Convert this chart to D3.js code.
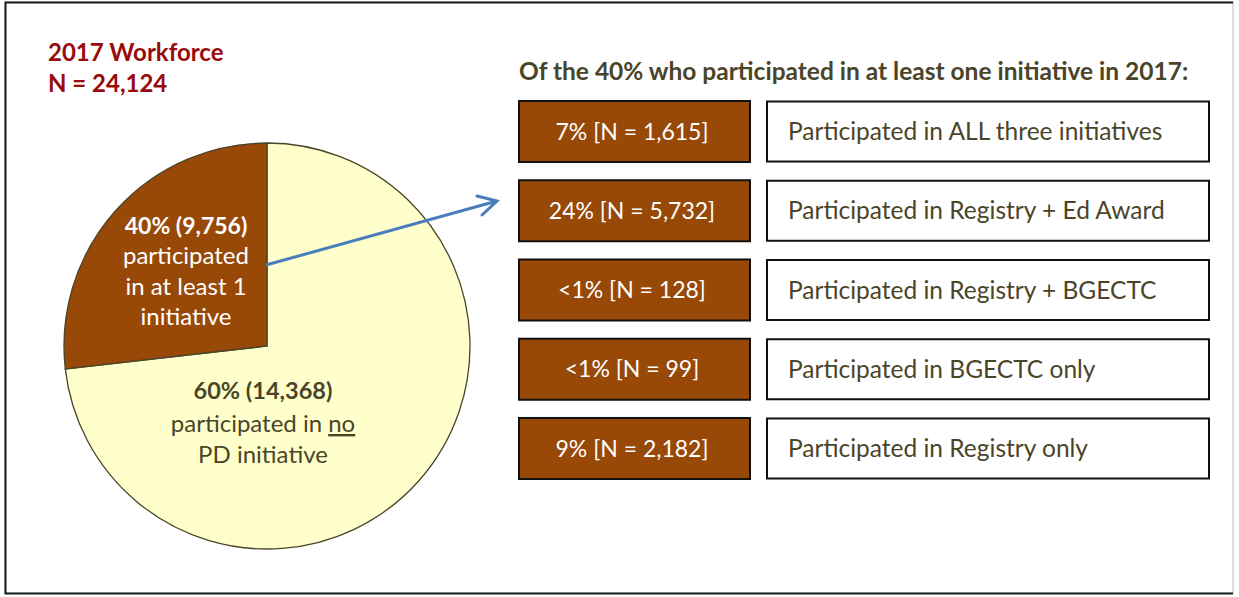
<!DOCTYPE html>
<html>
<head>
<meta charset="utf-8">
<script src="https://cdn.jsdelivr.net/npm/d3@7"></script>
<style>
  html, body { margin: 0; padding: 0; background: #fff; }
  svg { display: block; font-family: Lato, "Open Sans", sans-serif; }
</style>
</head>
<body>
<svg id="chart" width="1239" height="597"></svg>
<script>
// ---- data ----
const workforceTitle = "2017 Workforce";
const workforceN = "N = 24,124";
const pieCategories = ["none", "atLeastOne"];
const pieCounts = [14368, 9756];
const piePercents = ["60%", "40%"];
// slice shares as drawn in the reference picture (the drawing is not to scale)
const pieDrawnShares = [73.2, 26.8];

const breakdownTitle = "Of the 40% who participated in at least one initiative in 2017:";
const breakdownPercents = ["7%", "24%", "<1%", "<1%", "9%"];
const breakdownCounts = [1615, 5732, 128, 99, 2182];
const breakdownLabels = [
  "Participated in ALL three initiatives",
  "Participated in Registry + Ed Award",
  "Participated in Registry + BGECTC",
  "Participated in BGECTC only",
  "Participated in Registry only"
];

// ---- styles ----
const BROWN = "#984807";
const YELLOW = "#ffffcc";
const DARK = "#4a4529";
const RED = "#990a0a";
const BLUE = "#4a7ebb";
const fmt = d3.format(",");

const svg = d3.select("#chart");

// outer frame
svg.append("rect").attr("x", 5).attr("y", 2).attr("width", 1228).attr("height", 591)
  .attr("fill", "#fff").attr("stroke", "#bdbdbd").attr("stroke-width", 1);
svg.append("path").attr("d", "M1233,2.5 H5.5 V593.5 H1233")
  .attr("fill", "none").attr("stroke", "#1a1a1a").attr("stroke-width", 2);

// left title
const tTitle = svg.append("text").attr("x", 48).attr("fill", RED)
  .attr("font-weight", "bold").attr("font-size", 24);
tTitle.append("tspan").attr("x", 48).attr("y", 61).text(workforceTitle);
tTitle.append("tspan").attr("x", 48).attr("y", 92).text(workforceN);

// pie
const cx = 267, cy = 346, R = 203;
const pie = d3.pie().sort(null).value(d => d.share);
const pieData = pie(pieCategories.map((c, i) => ({ cat: c, share: pieDrawnShares[i], count: pieCounts[i], pct: piePercents[i] })));
const arc = d3.arc().innerRadius(0).outerRadius(R);
const colour = d3.scaleOrdinal().domain(pieCategories).range([YELLOW, BROWN]);
const g = svg.append("g").attr("transform", `translate(${cx},${cy})`);
g.selectAll("path").data(pieData).join("path")
  .attr("d", arc)
  .attr("fill", d => colour(d.data.cat))
  .attr("stroke", "#4a4529").attr("stroke-width", 1.3);

// pie labels
const lbBrown = svg.append("text").attr("text-anchor", "middle").attr("fill", "#fff").attr("font-size", 24);
lbBrown.append("tspan").attr("x", 186).attr("y", 234).attr("font-weight", "bold").attr("font-size", 23)
  .text(`${pieData[1].data.pct} (${fmt(pieData[1].data.count)})`);
lbBrown.append("tspan").attr("x", 186).attr("y", 264).text("participated");
lbBrown.append("tspan").attr("x", 186).attr("y", 295).text("in at least 1");
lbBrown.append("tspan").attr("x", 186).attr("y", 325).text("initiative");

const lbYellow = svg.append("text").attr("text-anchor", "middle").attr("fill", DARK).attr("font-size", 24);
lbYellow.append("tspan").attr("x", 263).attr("y", 399).attr("font-weight", "bold").attr("font-size", 23.5)
  .text(`${pieData[0].data.pct} (${fmt(pieData[0].data.count)})`);
const l2 = lbYellow.append("tspan").attr("x", 263).attr("y", 432);
l2.append("tspan").text("participated in ");
l2.append("tspan").attr("text-decoration", "underline").text("no");
lbYellow.append("tspan").attr("x", 263).attr("y", 463).text("PD initiative");

// arrow
svg.append("path")
  .attr("d", "M266,265 L497,201")
  .attr("stroke", BLUE).attr("stroke-width", 3).attr("fill", "none");
svg.append("path")
  .attr("d", "M477,196 L497,201 L482,215")
  .attr("stroke", BLUE).attr("stroke-width", 3).attr("fill", "none")
  .attr("stroke-linejoin", "miter").attr("stroke-linecap", "round");

// breakdown title
svg.append("text").attr("x", 519).attr("y", 80).attr("fill", DARK)
  .attr("font-weight", "bold").attr("font-size", 24.5).text(breakdownTitle);

// rows
const y = d3.scaleBand().domain(breakdownLabels).range([101, 479]).paddingInner(0.23).paddingOuter(0);
const rows = svg.selectAll("g.row").data(breakdownLabels.map((l, i) => ({ label: l, pct: breakdownPercents[i], n: breakdownCounts[i] })))
  .join("g").attr("class", "row").attr("transform", d => `translate(0,${y(d.label)})`);
const bw = y.bandwidth();
rows.append("rect").attr("x", 519).attr("y", 0).attr("width", 231).attr("height", bw)
  .attr("fill", BROWN).attr("stroke", "#111").attr("stroke-width", 2);
rows.append("text").attr("x", 632).attr("y", bw / 2).attr("dy", "0.35em")
  .attr("text-anchor", "middle").attr("fill", "#fff").attr("font-size", 23)
  .text(d => `${d.pct} [N = ${fmt(d.n)}]`);
rows.append("rect").attr("x", 767).attr("y", 0.5).attr("width", 442).attr("height", bw - 1)
  .attr("fill", "#fff").attr("stroke", "#111").attr("stroke-width", 2);
rows.append("text").attr("x", 788).attr("y", bw / 2).attr("dy", "0.35em")
  .attr("fill", DARK).attr("font-size", 24.5).text(d => d.label);
</script>
</body>
</html>
